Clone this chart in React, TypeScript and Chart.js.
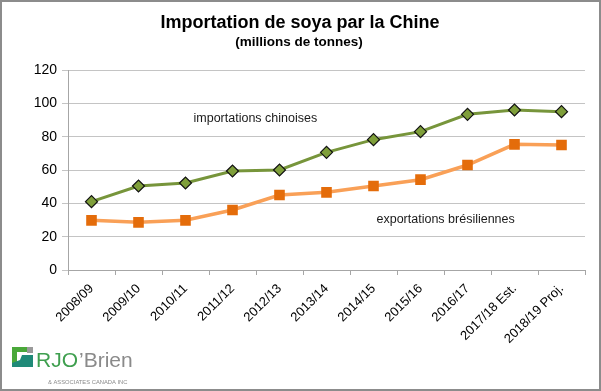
import React, { useEffect, useRef } from "react";
import { Chart, registerables } from "chart.js";

Chart.register(...registerables);

const categories = [
  "2008/09", "2009/10", "2010/11", "2011/12", "2012/13", "2013/14",
  "2014/15", "2015/16", "2016/17", "2017/18 Est.", "2018/19 Proj.",
];
const chinaImports = [41, 50.4, 52.2, 59.4, 60, 70.6, 78.2, 83, 93.4, 96, 95];
const brazilExports = [29.8, 28.6, 29.8, 36, 45, 46.6, 50.4, 54.2, 63, 75.4, 75];
const yTicks = [0, 20, 40, 60, 80, 100, 120];

const titleText = "Importation de soya par la Chine";
const subtitleText = "(millions de tonnes)";
const labelImports = "importations chinoises";
const labelExports = "exportations brésiliennes";

const FONT = "'Liberation Sans', Arial, sans-serif";

const decorPlugin = {
  id: "decor",
  beforeDraw(chart: any) {
    const ctx = chart.ctx;
    ctx.save();
    ctx.fillStyle = "#ffffff";
    ctx.fillRect(0, 0, chart.width, chart.height);
    ctx.restore();
  },
  afterDraw(chart: any) {
    const ctx = chart.ctx;
    const xs = chart.scales.x;
    const ys = chart.scales.y;
    ctx.save();
    // frame
    ctx.strokeStyle = "#8c8c8c";
    ctx.lineWidth = 2;
    ctx.strokeRect(1, 1, chart.width - 2, chart.height - 2);

    ctx.fillStyle = "#000";
    ctx.textAlign = "center";
    ctx.textBaseline = "middle";
    ctx.font = `bold 18px ${FONT}`;
    ctx.fillText(titleText, 300, 23);
    ctx.font = `bold 13.5px ${FONT}`;
    ctx.fillText(subtitleText, 299, 42);

    // series annotations
    ctx.font = `12.5px ${FONT}`;
    ctx.fillStyle = "#1a1a1a";
    ctx.textAlign = "left";
    ctx.fillText(labelImports, xs.getPixelForValue(2) + 8, ys.getPixelForValue(91));
    ctx.fillText(labelExports, xs.getPixelForValue(6) + 3, ys.getPixelForValue(30));

    // logo
    ctx.fillStyle = "#4aa83a";
    ctx.fillRect(12, 347, 15, 16);
    ctx.fillStyle = "#ffffff";
    ctx.fillRect(17, 352, 10, 11);
    ctx.fillStyle = "#9a9a9a";
    ctx.fillRect(27, 347, 6, 6);
    ctx.fillStyle = "#1f8a78";
    ctx.beginPath();
    ctx.moveTo(22, 355);
    ctx.lineTo(33, 355);
    ctx.lineTo(33, 367);
    ctx.lineTo(12, 367);
    ctx.lineTo(12, 363);
    ctx.lineTo(20, 360);
    ctx.closePath();
    ctx.fill();

    ctx.textAlign = "left";
    ctx.textBaseline = "alphabetic";
    ctx.font = `21px ${FONT}`;
    ctx.fillStyle = "#3f9f4f";
    ctx.fillText("RJO", 36, 367);
    const w = ctx.measureText("RJO").width;
    ctx.fillStyle = "#8a8a8a";
    ctx.fillText("\u2019Brien", 37 + w, 367);
    ctx.font = `5.8px ${FONT}`;
    ctx.fillStyle = "#8a8a8a";
    ctx.fillText("& ASSOCIATES CANADA INC", 48, 384);
    ctx.restore();
  },
};

export default function App() {
  const ref = useRef<HTMLCanvasElement | null>(null);
  useEffect(() => {
    if (!ref.current) return;
    const chart = new Chart(ref.current, {
      type: "line",
      data: {
        labels: categories,
        datasets: [
          {
            label: labelImports,
            data: chinaImports,
            borderColor: "#77953b",
            borderWidth: 3,
            pointStyle: "rectRot",
            pointRadius: 6,
            pointBackgroundColor: "#7f9f3a",
            pointBorderColor: "#111",
            pointBorderWidth: 1.2,
            tension: 0,
          },
          {
            label: labelExports,
            data: brazilExports,
            borderColor: "#f9a057",
            borderWidth: 3.5,
            pointStyle: "rect",
            pointRadius: 7.5,
            pointBackgroundColor: "#e46c0a",
            pointBorderColor: "#e46c0a",
            pointBorderWidth: 0,
            tension: 0,
          },
        ],
      },
      options: {
        animation: false,
        responsive: false,
        devicePixelRatio: 1,
        layout: { padding: { top: 70, left: 0, right: 16, bottom: 0 } },
        plugins: {
          legend: { display: false },
          tooltip: { enabled: false },
          title: { display: false },
        },
        scales: {
          x: {
            type: "category",
            offset: true,
            grid: {
              offset: true,
              drawOnChartArea: false,
              drawTicks: true,
              tickLength: 5,
              color: "#a6a6a6",
            },
            border: { color: "#a6a6a6", width: 1 },
            ticks: {
              maxRotation: 45,
              minRotation: 45,
              autoSkip: false,
              padding: 6,
              color: "#000",
              font: { family: FONT, size: 13 },
            },
            afterFit(scale: any) {
              scale.height = 121;
            },
          },
          y: {
            min: 0,
            max: 120,
            afterBuildTicks(scale: any) {
              scale.ticks = yTicks.map((v) => ({ value: v }));
            },
            grid: {
              color: "#c4c4c4",
              tickLength: 6,
              drawTicks: true,
            },
            border: { color: "#a6a6a6", width: 1 },
            ticks: {
              padding: 5,
              color: "#000",
              font: { family: FONT, size: 14 },
            },
            afterFit(scale: any) {
              scale.width = 68;
            },
          },
        },
      },
      plugins: [decorPlugin],
    });
    return () => chart.destroy();
  }, []);
  return (
    <div
      style={{
        position: "fixed",
        left: 0,
        top: 0,
        width: 601,
        height: 391,
        overflow: "hidden",
        background: "#fff",
      }}
    >
      <canvas
        ref={ref}
        width={601}
        height={391}
        style={{ display: "block", width: 601, height: 391 }}
      />
    </div>
  );
}
